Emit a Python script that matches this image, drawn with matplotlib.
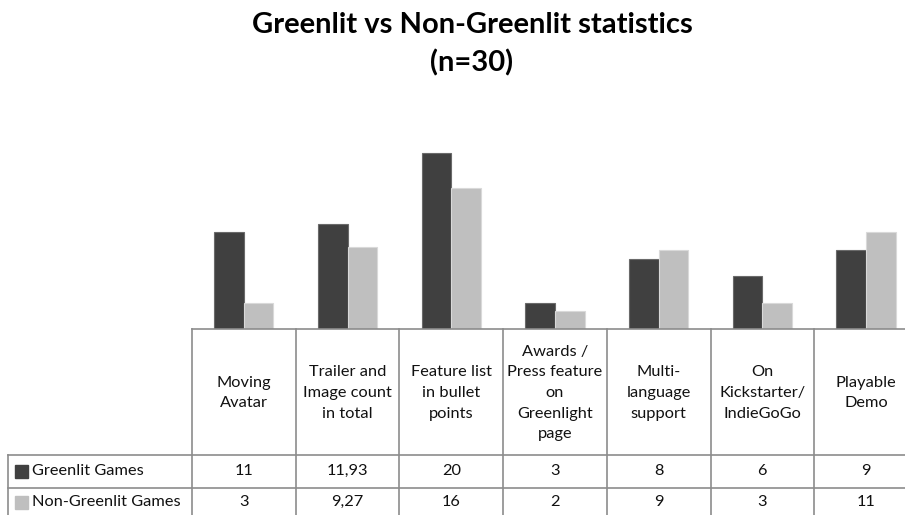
import matplotlib

matplotlib.use("Agg")
import matplotlib.pyplot as plt  # noqa: E402
import numpy as np  # noqa: E402

plt.rcParams["font.family"] = ["Lato", "DejaVu Sans"]

categories = [
    "Moving\nAvatar",
    "Trailer and\nImage count\nin total",
    "Feature list\nin bullet\npoints",
    "Awards /\nPress feature\non\nGreenlight\npage",
    "Multi-\nlanguage\nsupport",
    "On\nKickstarter/\nIndieGoGo",
    "Playable\nDemo",
]
greenlit = [11, 11.93, 20, 3, 8, 6, 9]
non_greenlit = [3, 9.27, 16, 2, 9, 3, 11]
greenlit_labels = ["11", "11,93", "20", "3", "8", "6", "9"]
non_greenlit_labels = ["3", "9,27", "16", "2", "9", "3", "11"]
series = ["Greenlit Games", "Non-Greenlit Games"]

DARK = "#404040"
LIGHT = "#bfbfbf"
GRID = "#8c8c8c"
INK = "#111111"

W, H = 905, 515
fig = plt.figure(figsize=(W / 100, H / 100), dpi=100)

# layout in pixels (from the top-left)
x0, colw = 192, 103.7
n = len(categories)
base_y, top_y = 329, 100
hdr_bot, row1_bot, row2_bot = 455, 488, 521
tab_left = 8

# bar axes (runs past the right edge, like the cropped original)
ax = fig.add_axes([x0 / W, 1 - base_y / H, n * colw / W, (base_y - top_y) / H])
x = np.arange(n)
bw = 0.285
ax.bar(x - bw / 2, greenlit, bw, color=DARK, edgecolor="#6a6a6a", lw=0.8)
ax.bar(x + bw / 2, non_greenlit, bw, color=LIGHT, edgecolor="#d9d9d9", lw=0.8)
ax.set_xlim(-0.5, n - 0.5)
ax.set_ylim(0, 20 * (base_y - top_y) / (base_y - 153))
ax.axis("off")

# overlay for the data table
tab = fig.add_axes([0, 0, 1, 1])
tab.set_xlim(0, W)
tab.set_ylim(H, 0)
tab.axis("off")
right = x0 + n * colw
lk = dict(color=GRID, lw=1.2)
tab.plot([x0, right], [base_y, base_y], **lk)
tab.plot([tab_left, right], [hdr_bot, hdr_bot], **lk)
tab.plot([tab_left, right], [row1_bot, row1_bot], **lk)
tab.plot([tab_left, tab_left], [hdr_bot, row2_bot], **lk)
for i in range(n + 1):
    tab.plot([x0 + i * colw] * 2, [base_y, row2_bot], **lk)

fs = 11.8
for i, cat in enumerate(categories):
    cx = x0 + (i + 0.5) * colw
    tab.text(cx, 393, cat, ha="center", va="center", fontsize=fs,
             linespacing=1.6, color=INK)
    tab.text(cx, 471, greenlit_labels[i], ha="center", va="center",
             fontsize=fs, color=INK)
    tab.text(cx, 502, non_greenlit_labels[i], ha="center", va="center",
             fontsize=fs, color=INK)

for name, col, cy in zip(series, (DARK, LIGHT), (471, 502)):
    tab.add_patch(plt.Rectangle((15, cy - 6.5), 13, 13, color=col))
    tab.text(32, cy, name, ha="left", va="center", fontsize=fs, color=INK)

fig.text(472 / W, 1 - 25 / H, "Greenlit vs Non-Greenlit statistics",
         ha="center", va="center", fontsize=21, fontweight="bold")
fig.text(472 / W, 1 - 63 / H, "(n=30)", ha="center", va="center",
         fontsize=21, fontweight="bold")

fig.savefig("out.png", dpi=100)
